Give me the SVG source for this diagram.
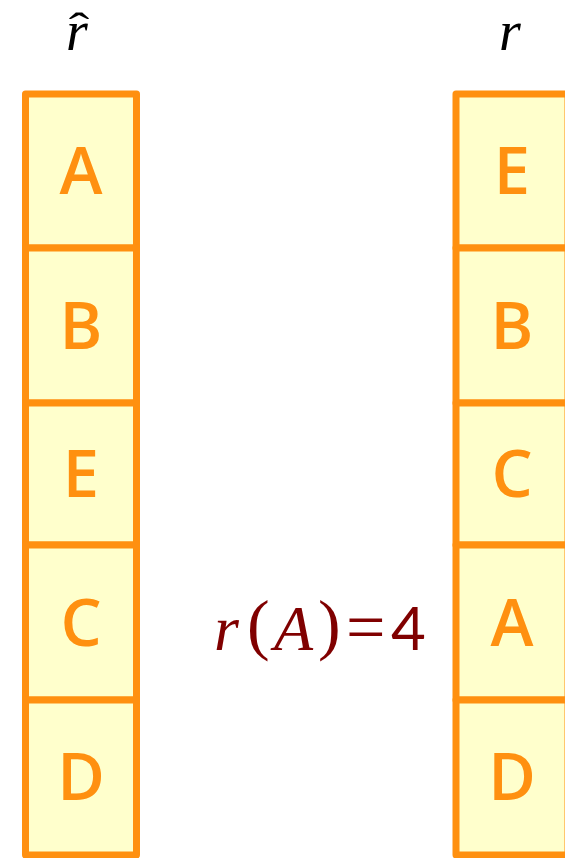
<svg xmlns="http://www.w3.org/2000/svg" width="565" height="858" viewBox="0 0 565 858">
<style>
.cell{fill:#FFFFCC;stroke:#FF9010;stroke-width:7;stroke-linejoin:round}
.lbl{font-family:"Open Sans","DejaVu Sans",sans-serif;font-weight:600;font-size:65px;fill:#FF9010;text-anchor:middle}
.hdr{font-family:"Liberation Serif",serif;font-style:italic;font-size:56px;fill:#000;text-anchor:middle}
.eq{font-family:"Liberation Serif",serif;font-size:64px;fill:#800000}
</style>
<rect width="565" height="858" fill="#fff"/>
<g id="hdr-left"><text class="hdr" x="77" y="50">r</text><text transform="translate(79,43) scale(1.4,1)" x="0" y="0" font-family="Liberation Serif,serif" font-size="44" text-anchor="middle">ˆ</text></g>
<g id="hdr-right"><text class="hdr" x="510" y="50">r</text></g>
<g id="left-A"><rect class="cell" x="25.5" y="94" width="111" height="154"/><text class="lbl" x="81" y="194">A</text></g>
<g id="left-B"><rect class="cell" x="25.5" y="248" width="111" height="155"/><text class="lbl" x="81" y="349">B</text></g>
<g id="left-E"><rect class="cell" x="25.5" y="403" width="111" height="142"/><text class="lbl" x="81" y="497">E</text></g>
<g id="left-C"><rect class="cell" x="25.5" y="545" width="111" height="155"/><text class="lbl" x="81" y="646">C</text></g>
<g id="left-D"><rect class="cell" x="25.5" y="700" width="111" height="155"/><text class="lbl" x="81" y="800">D</text></g>
<g id="right-E"><rect class="cell" x="456" y="94" width="112" height="154"/><text class="lbl" x="512" y="194">E</text></g>
<g id="right-B"><rect class="cell" x="456" y="248" width="112" height="155"/><text class="lbl" x="512" y="349">B</text></g>
<g id="right-C"><rect class="cell" x="456" y="403" width="112" height="142"/><text class="lbl" x="512" y="497">C</text></g>
<g id="right-A"><rect class="cell" x="456" y="545" width="112" height="155"/><text class="lbl" x="512" y="646">A</text></g>
<g id="right-D"><rect class="cell" x="456" y="700" width="112" height="155"/><text class="lbl" x="512" y="800">D</text></g>
<g id="formula"><text class="eq"><tspan x="214" y="650" font-style="italic">r</tspan><tspan x="247" y="647" font-size="68">(</tspan><tspan x="274" y="650" font-style="italic">A</tspan><tspan x="318" y="647" font-size="68">)</tspan><tspan x="346" y="651" font-size="70">=</tspan><tspan x="391" y="650" font-size="60" font-family="Lato,'Open Sans',sans-serif">4</tspan></text></g>
<g id="connectors"/>
</svg>
